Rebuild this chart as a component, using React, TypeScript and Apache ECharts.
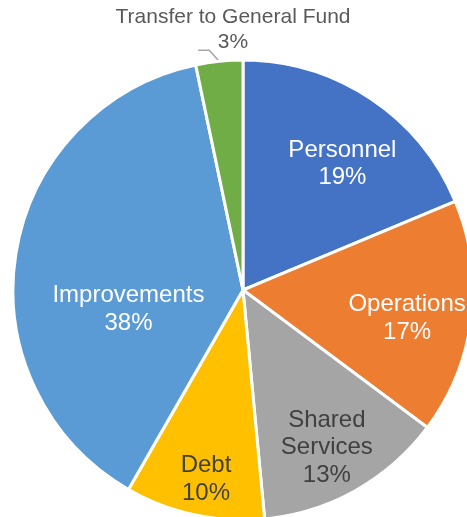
import React, { useEffect, useRef } from "react";
import * as echarts from "echarts";

const categories = ["Personnel", "Operations", "Shared\nServices", "Debt", "Improvements", "Transfer to General Fund"];
const values = [18.7, 16.5, 13.3, 9.8, 38.4, 3.3];
const colors = ["#4472C4", "#ED7D31", "#A5A5A5", "#FFC000", "#5B9BD5", "#70AD47"];
const labelColors = ["#ffffff", "#ffffff", "#404040", "#404040", "#ffffff", "#595959"];
const labelShift = [
  [34, -30],
  [47, 12],
  [26, 53],
  [-12, 72],
  [2, 36],
];
const transferLabelPos = [233, 28];
const CENTER = [243, 290];
const RADIUS = 230;

export default function App() {
  const ref = useRef<HTMLDivElement>(null);
  useEffect(() => {
    const chart = echarts.init(ref.current!, null, { renderer: "svg" });
    const total = values.reduce((s, v) => s + v, 0);
    const before = values.slice(0, 5).reduce((s, v) => s + v, 0);
    const mid = ((before + values[5] / 2) / total) * Math.PI * 2;
    const anchor = [CENTER[0] + RADIUS * Math.sin(mid), CENTER[1] - RADIUS * Math.cos(mid)];
    chart.setOption({
      animation: false,
      series: [
        {
          type: "pie",
          center: CENTER,
          radius: [0, RADIUS],
          startAngle: 90,
          clockwise: true,
          avoidLabelOverlap: false,
          itemStyle: { borderColor: "#ffffff", borderWidth: 3 },
          labelLayout: (p: any) => {
            if (p.dataIndex === 5) {
              const a = anchor;
              return {
                x: transferLabelPos[0],
                y: transferLabelPos[1],
                align: "center",
                verticalAlign: "middle",
                labelLinePoints: [
                  [a[0], a[1]],
                  [a[0] - 10, a[1] - 11],
                  [a[0] - 21, a[1] - 11],
                ],
              };
            }
            return { dx: labelShift[p.dataIndex][0], dy: labelShift[p.dataIndex][1] };
          },
          data: categories.map((c, i) => ({
            name: c,
            value: values[i],
            itemStyle: { color: colors[i] },
            label:
              i === 5
                ? {
                    show: true,
                    position: "outside",
                    formatter: (p: any) => `${p.name}\n${Math.round(p.percent)}%`,
                    color: labelColors[i],
                    fontSize: 21,
                    lineHeight: 25,
                    align: "center",
                    fontFamily: "Liberation Sans, Arial, sans-serif",
                  }
                : {
                    show: true,
                    position: "inside",
                    formatter: (p: any) => `${p.name}\n${Math.round(p.percent)}%`,
                    color: labelColors[i],
                    fontSize: 24,
                    lineHeight: 27.5,
                    fontFamily: "Liberation Sans, Arial, sans-serif",
                  },
            labelLine:
              i === 5
                ? { show: true, length: 14, length2: 14, lineStyle: { color: "#A5A5A5", width: 1.5 } }
                : { show: false },
          })),
        },
      ],
    });
    return () => chart.dispose();
  }, []);
  return <div ref={ref} style={{ position: "fixed", left: 0, top: 0, width: 467, height: 517 }} />;
}
